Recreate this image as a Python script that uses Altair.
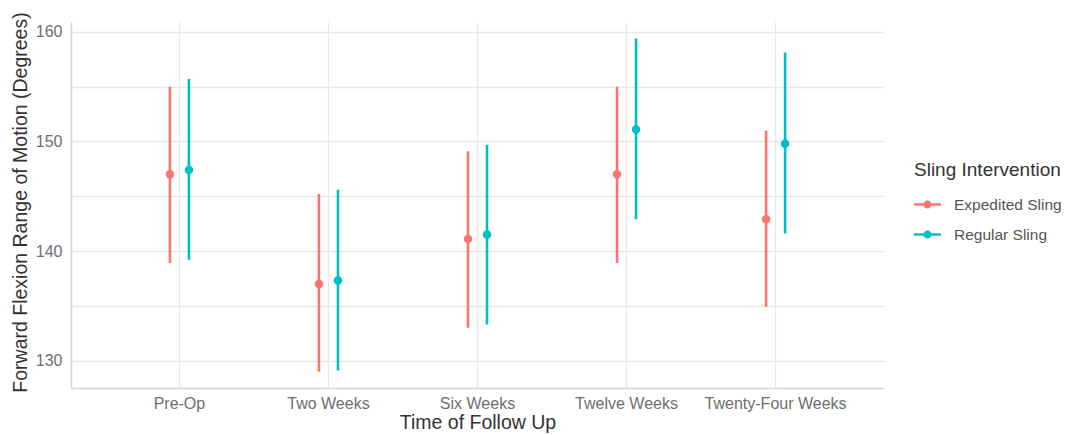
import altair as alt
import pandas as pd

categories = ["Pre-Op", "Two Weeks", "Six Weeks", "Twelve Weeks", "Twenty-Four Weeks"]
groups = ["Expedited Sling", "Regular Sling"]
colors = ["#F8766D", "#00BFC4"]

exp_mean = [147.0, 137.0, 141.1, 147.0, 142.9]
exp_lo = [138.9, 129.0, 133.0, 138.9, 134.9]
exp_hi = [155.0, 145.2, 149.1, 155.0, 151.0]

reg_mean = [147.4, 137.3, 141.5, 151.1, 149.8]
reg_lo = [139.2, 129.1, 133.3, 142.9, 141.6]
reg_hi = [155.7, 145.6, 149.7, 159.4, 158.1]

y_grid_values = [130, 135, 140, 145, 150, 155, 160]

rows = []
for i, c in enumerate(categories):
    rows.append({"time": c, "group": groups[0], "mean": exp_mean[i], "lo": exp_lo[i], "hi": exp_hi[i]})
    rows.append({"time": c, "group": groups[1], "mean": reg_mean[i], "lo": reg_lo[i], "hi": reg_hi[i]})
df = pd.DataFrame(rows)

FONT = "Liberation Sans"

x_enc = alt.X(
    "time:N",
    sort=categories,
    scale=alt.Scale(type="band", domain=categories, paddingInner=0.745, paddingOuter=0.6),
    axis=alt.Axis(
        title="Time of Follow Up",
        grid=True,
        ticks=False,
        labelAngle=0,
        labelPadding=7,
        labelFontSize=16,
        labelColor="#6e6e6e",
        titleFontSize=19.5,
        titleFontWeight="normal",
        titleColor="#333333",
        titlePadding=2,
        domainColor="#d4d4d4",
        domainWidth=1.5,
    ),
)
xo_enc = alt.XOffset("group:N", sort=groups, scale=alt.Scale(domain=groups, paddingInner=0, paddingOuter=0))
y_scale = alt.Scale(domain=[127.5, 160.9], nice=False, zero=False)
color_scale = alt.Scale(domain=groups, range=colors)

rules = alt.Chart(df).mark_rule(strokeWidth=2.6).encode(
    x=x_enc,
    xOffset=xo_enc,
    y=alt.Y(
        "lo:Q",
        scale=y_scale,
        axis=alt.Axis(
            title="Forward Flexion Range of Motion (Degrees)",
            values=y_grid_values,
            labelExpr="datum.value % 10 == 0 ? datum.label : ''",
            grid=True,
            ticks=False,
            labelPadding=9,
            labelFontSize=16,
            labelColor="#6e6e6e",
            titleFontSize=19.5,
            titleFontWeight="normal",
            titleColor="#333333",
            titleX=-51,
            titleY=180,
            titleAngle=-90,
            titleAlign="center",
            titleBaseline="middle",
            domainColor="#d4d4d4",
            domainWidth=1.5,
        ),
    ),
    y2="hi:Q",
    color=alt.Color("group:N", scale=color_scale, legend=None),
)

points = alt.Chart(df).mark_point(filled=True, size=72, opacity=1).encode(
    x=x_enc,
    xOffset=xo_enc,
    y=alt.Y("mean:Q", scale=y_scale),
    color=alt.Color(
        "group:N",
        scale=color_scale,
        legend=alt.Legend(
            title="Sling Intervention",
            orient="none",
            legendX=843,
            legendY=139,
            titleFontSize=19,
            titleFontWeight="normal",
            titleColor="#333333",
            titlePadding=11,
            labelFontSize=15.5,
            labelColor="#555555",
            labelOffset=13,
            rowPadding=8,
            symbolType="M-1,-0.09L1,-0.09L1,0.09L-1,0.09Z M0.3,0A0.3,0.3,0,1,1,-0.3,0A0.3,0.3,0,1,1,0.3,0Z",
            symbolSize=729,
            symbolStrokeWidth=0,
            symbolOpacity=1,
        ),
    ),
)

chart = (
    alt.layer(rules, points)
    .resolve_legend(color="independent")
    .properties(
        width=813,
        height=366,
        autosize=alt.AutoSizeParams(type="none"),
        padding={"left": 63, "top": 14, "right": 179, "bottom": 47},
        background="white",
    )
    .configure_view(stroke=None)
    .configure_axis(gridColor="#e8e8e8", gridWidth=1.3, labelFont=FONT, titleFont=FONT)
    .configure_legend(labelFont=FONT, titleFont=FONT)
)

chart.save("out.html", embed_options={"renderer": "svg", "actions": False})
